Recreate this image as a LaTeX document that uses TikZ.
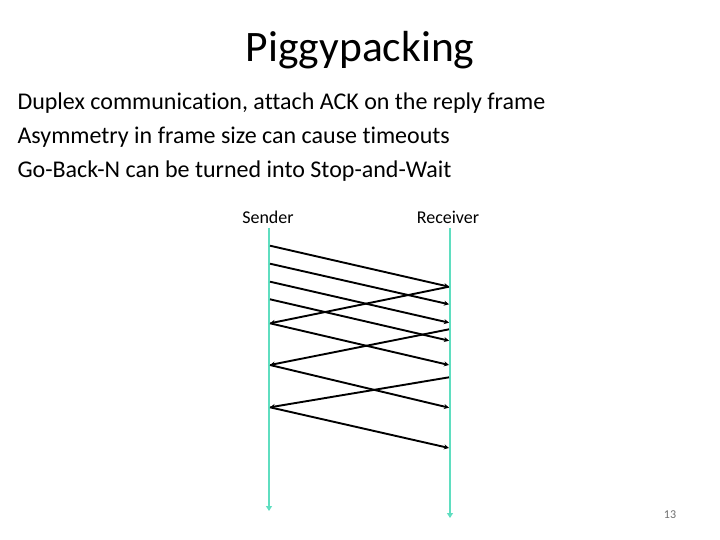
\documentclass[tikz,border=0pt]{standalone}
\usepackage{fontspec}
\setmainfont[Ligatures={NoCommon}]{Carlito}
\usepackage{xcolor}
\usetikzlibrary{arrows.meta}

\definecolor{timeline}{RGB}{95,222,192}
\definecolor{pagegrey}{RGB}{110,110,110}

\tikzset{
	timeaxis/.style = {draw=timeline, line width=1.8pt, -{Triangle[length=5pt,width=6pt]}},
	frame/.style = {draw=black, line width=1.9pt, -{Stealth[length=5pt,width=5pt]}},
	party/.style = {font=\fontsize{18}{21}\selectfont, anchor=base},
	bullet/.style = {font=\fontsize{24}{28}\selectfont, anchor=base west}
}

\begin{document}
\begin{tikzpicture}[x=1pt, y=-1pt]
		\useasboundingbox (0,0) rectangle (720,540);
		% title and text
		\node[font=\fontsize{43.5}{48}\selectfont, anchor=base] (title) at (360,62) {Piggypacking};
		\node[bullet] (line1) at (14,110) {Duplex communication, attach ACK on the reply frame};
		\node[bullet] (line2) at (14,144) {Asymmetry in frame size can cause timeouts};
		\node[bullet] (line3) at (14,178) {Go-Back-N can be turned into Stop-and-Wait};
		\node[font=\fontsize{12}{14}\selectfont, text=pagegrey] (page) at (670,515) {13};

		% the two time lines
		\node[party] (sender) at (268,223) {Sender};
		\node[party] (receiver) at (448,223) {Receiver};
		\coordinate (sTop) at (269,228);
		\coordinate (sEnd) at (269,511);
		\coordinate (rTop) at (450,228);
		\coordinate (rEnd) at (450,518);
		\draw[timeaxis] (sTop) -- (sEnd);
		\draw[timeaxis] (rTop) -- (rEnd);

		% points on the sender and receiver lines
		\foreach \n/\y in {1/245.7, 2/263.7, 3/281.7, 4/299.3, 5/323.3, 6/365, 7/407.3}
			\coordinate (s\n) at (270,\y);
		\foreach \n/\y in {1/286.7, 2/304.3, 3/322.7, 4/340.7, 5/365, 6/407.7, 7/448, 8/329.3, 9/377.3}
			\coordinate (r\n) at (449,\y);

		% frames from sender to receiver
		\foreach \n in {1,...,7}
			\draw[frame] (s\n) -- (r\n);
		% reply frames carrying the ACK
		\draw[frame] (r1) -- (s5);
		\draw[frame] (r8) -- (s6);
		\draw[frame] (r9) -- (s7);
	\end{tikzpicture}
\end{document}
